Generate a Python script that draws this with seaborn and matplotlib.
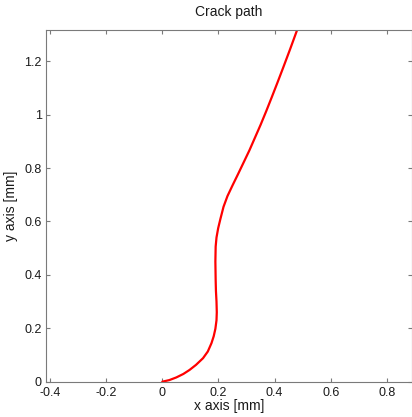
import matplotlib
matplotlib.use("Agg")
import matplotlib.pyplot as plt
import seaborn as sns
import pandas as pd

crack_x = [0.0, 0.025, 0.05, 0.075, 0.097, 0.12, 0.145, 0.162, 0.175, 0.183, 0.189, 0.193, 0.194, 0.193, 0.191, 0.190, 0.189, 0.190, 0.193, 0.199, 0.207, 0.218, 0.232, 0.25, 0.27, 0.29, 0.31, 0.33, 0.35, 0.37, 0.39, 0.41, 0.43, 0.455, 0.48]
crack_y = [0.0, 0.006, 0.016, 0.029, 0.044, 0.063, 0.088, 0.113, 0.144, 0.170, 0.198, 0.230, 0.260, 0.300, 0.340, 0.381, 0.450, 0.506, 0.540, 0.575, 0.610, 0.655, 0.695, 0.735, 0.778, 0.822, 0.866, 0.914, 0.962, 1.013, 1.066, 1.120, 1.175, 1.245, 1.317]
x_ticks = [-0.4, -0.2, 0, 0.2, 0.4, 0.6, 0.8]
x_tick_labels = ["-0.4", "-0.2", "0", "0.2", "0.4", "0.6", "0.8"]
y_ticks = [0, 0.2, 0.4, 0.6, 0.8, 1.0, 1.2]
y_tick_labels = ["0", "0.2", "0.4", "0.6", "0.8", "1", "1.2"]

sns.set_theme(style="white")
plt.rcParams['font.family'] = ['Liberation Sans', 'DejaVu Sans']

df = pd.DataFrame({"x": crack_x, "y": crack_y})

fig = plt.figure(figsize=(4.12, 4.17), dpi=100)
ax = fig.add_axes([46/412, (417-381.7)/417, 366/412, 351.7/417])
sns.lineplot(data=df, x="x", y="y", sort=False, estimator=None, ax=ax,
             color="#ff0000", linewidth=1.6)

ax.set_xlim(-0.414, 0.889)
ax.set_ylim(0, 1.317)
ax.set_xticks(x_ticks)
ax.set_xticklabels(x_tick_labels)
ax.set_yticks(y_ticks)
ax.set_yticklabels(y_tick_labels)
ax.tick_params(direction="in", length=3, width=0.8, color="#7a7a7a",
               labelsize=9, labelcolor="#1a1a1a", top=True, right=True,
               bottom=True, left=True)
ax.tick_params(axis="x", pad=4)
ax.tick_params(axis="y", pad=3)
for s in ax.spines.values():
    s.set_color("#7a7a7a")
    s.set_linewidth(0.8)
ax.set_xlabel("x axis [mm]", fontsize=10, color="#1a1a1a", labelpad=0)
ax.set_ylabel("y axis [mm]", fontsize=10, color="#1a1a1a", labelpad=5)
ax.set_title("Crack path", fontsize=10, color="#1a1a1a", pad=10)

fig.savefig("out.png", dpi=100)
